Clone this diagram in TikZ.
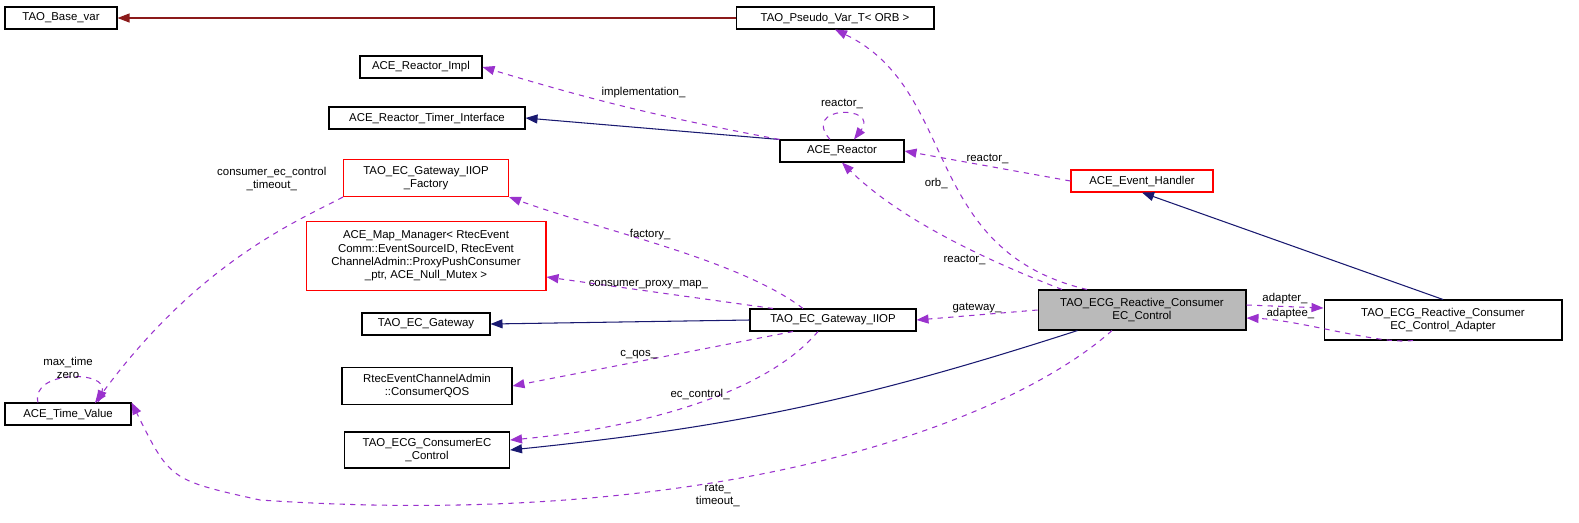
\documentclass[tikz,border=0pt]{standalone}
\usepackage{fontspec}
\setmainfont{Liberation Sans}
\usetikzlibrary{arrows.meta,positioning,calc}
\definecolor{depcol}{HTML}{9A32CD}
\definecolor{inhcol}{HTML}{191970}
\definecolor{rootcol}{HTML}{8B1A1A}
\begin{document}
\begin{tikzpicture}
[x=0.02cm,y=-0.02cm,>={Triangle[length=2.4mm,width=1.8mm]},font=\fontsize{6.5}{7.6}\selectfont,
every node/.style={inner sep=1pt},
cls/.style={draw,semithick,minimum height=0.44cm,align=center,inner sep=2pt,fill=white},
red cls/.style={cls,draw=red},
dep/.style={->,dashed,draw=depcol,semithick},
inh/.style={->,draw=inhcol,semithick},
lab/.style={align=center}]
\useasboundingbox (0,0) rectangle (1579,522);
\node [cls,minimum width=2.24cm] (basevar) at (61,18) {TAO\_Base\_var};
\node [cls,minimum width=3.96cm] (pseudo) at (835,18) {TAO\_Pseudo\_Var\_T\textless{} ORB \textgreater};
\node [cls,minimum width=2.44cm] (rimpl) at (421,67) {ACE\_Reactor\_Impl};
\node [cls,minimum width=3.92cm] (rtimer) at (427,118) {ACE\_Reactor\_Timer\_Interface};
\node [cls,minimum width=2.48cm] (reactor) at (842,151) {ACE\_Reactor};
\node [red cls,minimum width=2.84cm] (handler) at (1142,181) {ACE\_Event\_Handler};
\node [red cls,minimum width=3.3cm,minimum height=0.74cm] (factory) at (426,178) {TAO\_EC\_Gateway\_IIOP\\\_Factory};
\node [red cls,minimum width=4.8cm,minimum height=1.38cm] (mapmgr) at (426,256)
 {ACE\_Map\_Manager\textless{} RtecEvent\\Comm::EventSourceID, RtecEvent\\ChannelAdmin::ProxyPushConsumer\\\_ptr, ACE\_Null\_Mutex \textgreater};
\node [cls,minimum width=2.56cm] (gateway) at (426,324) {TAO\_EC\_Gateway};
\node [cls,minimum width=3.32cm] (iiop) at (833,320) {TAO\_EC\_Gateway\_IIOP};
\node [cls,fill=black!27,minimum width=4.16cm,minimum height=0.8cm] (control) at (1142,310) {TAO\_ECG\_Reactive\_Consumer\\EC\_Control};
\node [cls,minimum width=4.76cm,minimum height=0.8cm] (adapter) at (1443,320) {TAO\_ECG\_Reactive\_Consumer\\EC\_Control\_Adapter};
\node [cls,minimum width=3.4cm,minimum height=0.74cm] (qos) at (427,386) {RtecEventChannelAdmin\\::ConsumerQOS};
\node [cls,minimum width=2.52cm] (timeval) at (68,414) {ACE\_Time\_Value};
\node [cls,minimum width=3.3cm,minimum height=0.72cm] (ecctl) at (427,450) {TAO\_ECG\_ConsumerEC\\\_Control};
% inheritance
\draw [->,draw=rootcol,semithick] (pseudo) -- (basevar);
\draw [inh] (reactor.north west) -- (rtimer.east);
\draw [inh] (adapter.north) -- (handler.south);
\draw [inh] (iiop.west) -- (gateway.east);
\draw [inh] ($(control.south west)+(40,0)$) to[bend left=6] (ecctl.east);
% members
\draw [dep] (reactor.north west) to[bend left=3] node[above=6pt,pos=0.45,lab] {implementation\_} (rimpl.east);
\draw [dep] ($(reactor.north)+(-12,0)$) .. controls (800,105) and (880,105) .. ($(reactor.north)+(12,0)$);
\node [lab] (rloop) at (842,104) {reactor\_};
\draw [dep] (handler.west) -- node[above,lab] {reactor\_} (reactor.east);
\draw [dep] ($(control.north)+(-80,0)$) .. controls (960,250) and (890,210) .. node[pos=0.25,left=2pt,lab] {reactor\_} (reactor.south);
\draw [dep] ($(control.north)+(-55,0)$) .. controls (920,250) and (960,90) .. node[pos=0.45,left=2pt,lab] {orb\_} (pseudo.south);
\draw [dep] ($(iiop.north)+(-30,0)$) .. controls (740,260) and (600,230) .. node[pos=0.55,above,lab] {factory\_} (factory.south east);
\draw [dep] ($(iiop.north)+(-60,0)$) -- node[above,pos=0.55,lab] {consumer\_proxy\_map\_} (mapmgr.east |- 0,277);
\draw [dep] ($(iiop.south)+(-40,0)$) -- node[above,pos=0.55,lab] {c\_qos\_} (qos.east);
\draw [dep] ($(iiop.south)+(-15,0)$) .. controls (760,400) and (620,430) .. node[pos=0.45,above,lab] {ec\_control\_} (ecctl.east |- 0,440);
\draw [dep] (control.west) -- node[above,lab] {gateway\_} (iiop.east);
\draw [dep] (control.east |- 0,305) -- node[above,lab] {adapter\_} (adapter.west |- 0,308);
\draw [dep] ($(adapter.south)+(-30,0)$) .. controls (1380,345) and (1300,320) .. node[pos=0.75,above=1pt,lab] {adaptee\_} (control.east |- 0,318);
\draw [dep] ($(control.south)+(-30,0)$) .. controls (1000,430) and (700,530) .. node[pos=0.6,below,lab] {rate\_\\timeout\_} (260,500) .. controls (170,480) .. (timeval.north east);
\draw [dep] (factory.south west) .. controls (300,220) and (200,260) .. node[pos=0.05,above left=6pt,lab] {consumer\_ec\_control\\\_timeout\_} (95,403);
\draw [dep] ($(timeval.north)+(-30,0)$) .. controls (30,370) and (110,370) .. ($(timeval.north)+(30,0)$);
\node [lab] (tloop) at (68,368) {max\_time\\zero};
\end{tikzpicture}
\end{document}
